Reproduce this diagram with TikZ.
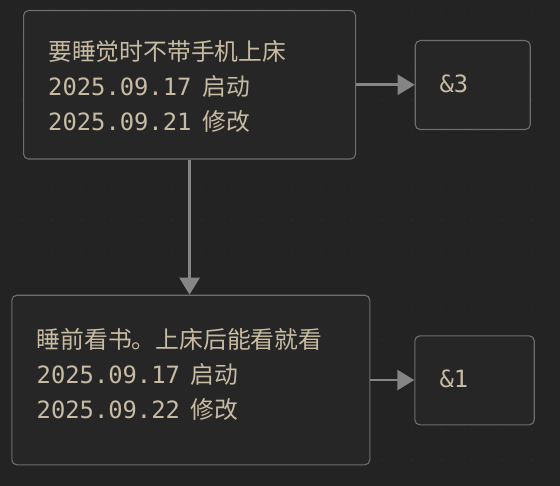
\documentclass[tikz,border=0pt]{standalone}
\usepackage{fontspec}
\setmonofont{DejaVu Sans Mono}
\newfontfamily\cjk{Noto Sans CJK SC}
\usetikzlibrary{arrows.meta}
\definecolor{bgc}{HTML}{232323}
\definecolor{boxfill}{HTML}{262626}
\definecolor{boxline}{HTML}{6E6E6E}
\definecolor{conn}{HTML}{858585}
\definecolor{txtc}{HTML}{C8BBA3}
\definecolor{dotc}{HTML}{2D2D2D}
\newcommand{\gapsp}{\hspace*{11pt}}
\tikzset{
  card/.style={draw=boxline, line width=1.1pt, fill=boxfill, rounded corners=5pt, anchor=north west, inner sep=0pt},
  txt/.style={text=txtc, anchor=base west, inner sep=0pt, font=\fontsize{23.8}{35}\selectfont\ttfamily},
  conn/.style={draw=conn, line width=2.7pt, -{Triangle[length=17pt,width=20pt]}}
}
\begin{document}
\begin{tikzpicture}[x=1pt,y=-1pt]
\fill[bgc] (0,0) rectangle (560,486);
\useasboundingbox (0,0) rectangle (560,486);
\foreach \i in {0,...,18}{
  \foreach \j in {0,...,16}{
    \fill[dotc] ({21.7+30*\i},{10+30*\j}) circle (0.9pt);
  }
}
\node[card, minimum width=332pt, minimum height=148.5pt] (b1) at (23,10) {};
\node[card, minimum width=115pt, minimum height=89pt] (b3) at (414.7,40) {};
\node[card, minimum width=358pt, minimum height=169.6pt] (b2) at (11.3,294.7) {};
\node[card, minimum width=119.4pt, minimum height=89pt] (b4) at (414.3,335.3) {};

\node[txt] (t11) at (48,60.7) {\cjk 要睡觉时不带手机上床};
\node[txt] (t12) at (48,95.7) {2025.09.17\gapsp{\cjk 启动}};
\node[txt] (t13) at (48,130.7) {2025.09.21\gapsp{\cjk 修改}};
\node[txt] (t3) at (439.3,92.3) {\&3};

\node[txt] (t21) at (36.5,348.3) {\cjk 睡前看书。上床后能看就看};
\node[txt] (t22) at (36.5,383.3) {2025.09.17\gapsp{\cjk 启动}};
\node[txt] (t23) at (36.5,418.3) {2025.09.22\gapsp{\cjk 修改}};
\node[txt] (t4) at (439.3,387.7) {\&1};

\draw[conn] (b1.east) -- (b1.east -| b3.west);
\draw[conn] (b2.east) -- (b2.east -| b4.west);
\draw[conn] (b1.south) -- (b1.south |- b2.north);
\end{tikzpicture}
\end{document}
